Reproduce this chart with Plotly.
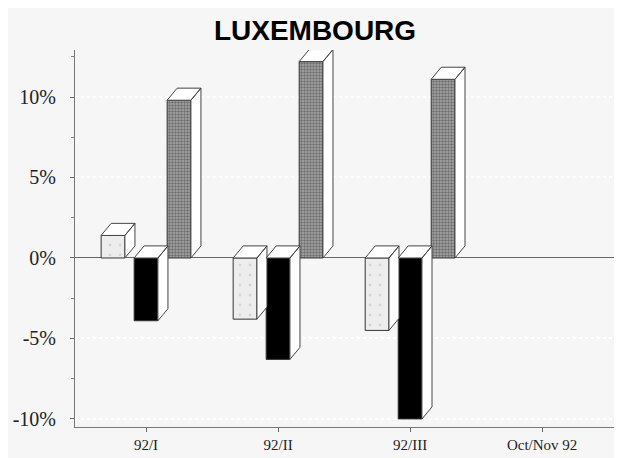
import plotly.graph_objects as go

categories = ["92/I", "92/II", "92/III", "Oct/Nov 92"]
series_light = [1.4, -3.8, -4.5, None]
series_black = [-3.9, -6.3, -10.0, None]
series_gray = [9.8, 12.2, 11.1, None]

y_ticks = [-10, -5, 0, 5, 10]
y_labels = ["-10%", "-5%", "0%", "5%", "10%"]

# geometry of the pseudo-3D bars (in axis units)
bar_w = 0.18
offsets = [-0.25, 0.0, 0.25]
dx = 0.076
dy = 0.75

fig = go.Figure()

styles = [
    dict(color="#ededed", pattern=dict(shape=".", fgcolor="#bdbdbd", bgcolor="#ededed", size=10, solidity=0.06)),
    dict(color="#000000"),
    dict(color="#9c9c9c", pattern=dict(shape=".", fgcolor="#333333", bgcolor="#a8a8a8", size=3, solidity=0.5)),
]

all_series = [series_light, series_black, series_gray]

for vals, off, st in zip(all_series, offsets, styles):
    xs = [i + off for i, v in enumerate(vals) if v is not None]
    ys = [v for v in vals if v is not None]
    fig.add_trace(go.Bar(
        x=xs, y=ys, width=bar_w,
        marker=dict(line=dict(color="#333333", width=1), **st),
        hoverinfo="skip", showlegend=False,
    ))

    # top face and right side face
    px, py = [], []
    for c, v in zip(xs, ys):
        x0, x1 = c - bar_w / 2, c + bar_w / 2
        top, bot = max(v, 0), min(v, 0)
        px += [x0, x0 + dx, x1 + dx, x1, x0, None]
        py += [top, top + dy, top + dy, top, top, None]
        px += [x1, x1 + dx, x1 + dx, x1, x1, None]
        py += [top, top + dy, bot + dy, bot, top, None]
    fig.add_trace(go.Scatter(
        x=px, y=py, mode="lines", fill="toself", fillcolor="#ffffff",
        line=dict(color="#444444", width=1),
        hoverinfo="skip", showlegend=False,
    ))

fig.update_layout(
    width=614, height=450,
    margin=dict(l=67, r=2, t=42, b=31),
    paper_bgcolor="#f6f6f6",
    plot_bgcolor="#f6f6f6",
    barmode="overlay",
    title=dict(text="<b>LUXEMBOURG</b>", x=0.5, xanchor="center", y=0.95, yanchor="middle",
               font=dict(family="Liberation Sans, Arial", size=28, color="#000000")),
    font=dict(family="Liberation Serif, Times New Roman", color="#222222"),
    xaxis=dict(
        range=[-0.538, 3.59],
        tickvals=[0, 1, 2, 3], ticktext=categories,
        ticks="outside", ticklen=4, tickcolor="#666666",
        showline=True, linecolor="#777777", linewidth=1,
        showgrid=False, zeroline=False,
        tickfont=dict(size=15, color="#222222"),
    ),
    yaxis=dict(
        range=[-10.5, 12.92],
        tickvals=y_ticks, ticktext=y_labels,
        ticks="outside", ticklen=4, tickcolor="#666666",
        ticklabelstandoff=10,
        minor=dict(dtick=2.5, tick0=0, ticks="outside", ticklen=3, tickcolor="#888888", showgrid=False),
        showline=True, linecolor="#777777", linewidth=1,
        showgrid=True, gridcolor="#ffffff", griddash="dot", gridwidth=2,
        zeroline=True, zerolinecolor="#666666", zerolinewidth=1,
        tickfont=dict(size=20, color="#222222"),
    ),
)

fig.write_html("out.html")
